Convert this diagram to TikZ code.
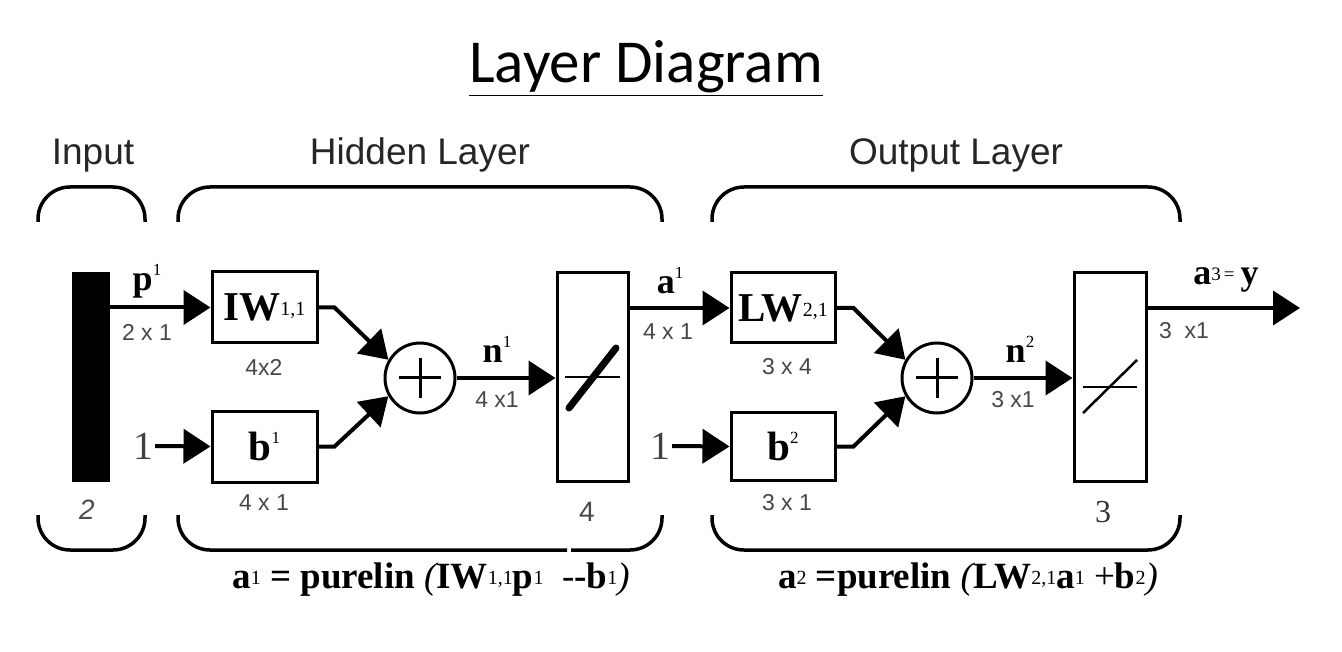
\documentclass[tikz,border=0pt]{standalone}
\usepackage{fontspec}
\setmainfont{Liberation Serif}
\newfontfamily\arialf{Liberation Sans}
\newfontfamily\calib{Carlito}
\usetikzlibrary{arrows.meta}
\newcommand\supn[1]{\raisebox{0.42em}{\fontsize{17}{17}\selectfont\mdseries #1}}
\newcommand\subn[1]{\raisebox{0.12em}{\fontsize{20}{20}\selectfont\mdseries #1}}
\begin{document}
\begin{tikzpicture}[x=1pt,y=-1pt,
 blk/.style={draw,line width=3pt,inner sep=0pt,minimum width=105pt,minimum height=71pt,font=\fontsize{41}{41}\selectfont\bfseries},
 tfbox/.style={draw,line width=3pt,inner sep=0pt,minimum width=71pt,minimum height=208pt},
 sumc/.style={draw,circle,line width=3pt,minimum size=70pt,inner sep=0pt},
 con/.style={line width=4pt,-{Triangle[length=27pt,width=34pt]}},
 brk/.style={line width=3.5pt,rounded corners=32pt},
 dim/.style={font=\arialf\fontsize{23}{23}\selectfont,text=black!72},
 lab/.style={font=\fontsize{36}{36}\selectfont\bfseries},
 hdr/.style={font=\arialf\fontsize{37}{37}\selectfont,text=black!85},
 onel/.style={font=\fontsize{40}{40}\selectfont,text=black!75,inner sep=2pt},
 frm/.style={font=\fontsize{37}{37}\selectfont\bfseries},
]
\useasboundingbox (0,0) rectangle (1342,652);

% title
\node[font=\calib\fontsize{61}{61}\selectfont,anchor=base] (title) at (646,83) {\underline{Layer Diagram}};

% headers
\node[hdr,anchor=base] (hin) at (93,165) {Input};
\node[hdr,anchor=base] (hhid) at (420,165) {Hidden Layer};
\node[hdr,anchor=base] (hout) at (956,165) {Output Layer};

% brackets top
\draw[brk] (38,222) -- (38,187) -- (145,187) -- (145,222);
\draw[brk] (178,222) -- (178,187) -- (662,187) -- (662,222);
\draw[brk] (712,222) -- (712,187) -- (1180,187) -- (1180,222);
% brackets bottom
\draw[brk] (38,515) -- (38,550) -- (145,550) -- (145,515);
\draw[brk] (178,515) -- (178,550) -- (567,550);
\draw[brk] (571,550) -- (662,550) -- (662,515);
\draw[brk] (712,515) -- (712,550) -- (1180,550) -- (1180,515);

% input bar
\node[fill=black,inner sep=0pt,minimum width=38pt,minimum height=210pt] (inbar) at (91,377) {};
\node[font=\arialf\itshape\fontsize{28}{28}\selectfont,text=black!70] (two) at (87,510) {2};

% hidden layer blocks
\node[blk] (IW) at (264.5,307.5) {IW\subn{1,1}};
\node[blk] (b1) at (264.5,446.5) {b\supn{1}};
\node[sumc] (s1) at (420,378) {};
\draw[line width=3pt] (s1.center) ++(-21,0) -- ++(42,0);
\draw[line width=3pt] (s1.center) ++(0,-20) -- ++(0,40);
\node[tfbox] (tf1) at (592.5,377) {};
\draw[line width=2pt] (565,377) -- (620,377);
\draw[line width=7pt,line cap=round] (569,408) -- (616,348);

% output layer blocks
\node[blk,minimum width=104pt,minimum height=70pt] (LW) at (783,308) {LW\subn{2,1}};
\node[blk,minimum width=104pt,minimum height=68pt] (b2) at (783,446.5) {b\supn{2}};
\node[sumc] (s2) at (937,378) {};
\draw[line width=3pt] (s2.center) ++(-21,0) -- ++(42,0);
\draw[line width=3pt] (s2.center) ++(0,-20) -- ++(0,40);
\node[tfbox,minimum width=72pt] (tf2) at (1110,377) {};
\draw[line width=2pt] (1083,387) -- (1137,387);
\draw[line width=2.5pt] (1083,413) -- (1137,360);

% "1" inputs
\node[onel] (one1) at (143,446) {1};
\node[onel] (one2) at (660,446) {1};

% connectors
\draw[con] (inbar.east |- IW.west) -- (IW.west);
\draw[con] (one1.east) -- (b1.west);
\draw[con] (IW.east) -- ++(16,0) -- (s1.150);
\draw[con] (b1.east) -- ++(16,0) -- (s1.210);
\draw[con] (s1.east) -- (tf1.west |- s1.east);
\draw[con] (tf1.east |- LW.west) -- (LW.west);
\draw[con] (one2.east) -- (b2.west);
\draw[con] (LW.east) -- ++(17,0) -- (s2.150);
\draw[con] (b2.east) -- ++(17,0) -- (s2.210);
\draw[con] (s2.east) -- (tf2.west |- s2.east);
\coordinate (outend) at (1300,308);
\draw[con] (tf2.east |- outend) -- (outend);

% signal labels
\node[lab] (lp) at (147,281) {p\supn{1}};
\node[lab] (la1) at (670,281) {a\supn{1}};
\node[lab] (ln1) at (497,349) {n\supn{1}};
\node[lab] (ln2) at (1020,349) {n\supn{2}};
\node[lab] (la3) at (1226,280) {a{\mdseries\raisebox{0.1em}{\fontsize{19}{19}\selectfont 3\,=}}\,y};

% dimension labels
\node[dim] (d1) at (147,332) {2 x 1};
\node[dim] (d2) at (264,367) {4x2};
\node[dim] (d3) at (264,503) {4 x 1};
\node[dim] (d4) at (497,400) {4 x1};
\node[dim] (d5) at (668,332) {4 x 1};
\node[dim] (d6) at (787,367) {3 x 4};
\node[dim] (d7) at (787,503) {3 x 1};
\node[dim] (d8) at (1013,400) {3 x1};
\node[dim] (d9) at (1184,331) {3\ \ x1};
\node[font=\arialf\fontsize{28}{28}\selectfont,text=black!72] (nn1) at (587,512) {4};
\node[font=\fontsize{32}{32}\selectfont,text=black!80] (nn2) at (1103,512) {3};

% formulas
\node[frm] (f1) at (431,580) {a\subn{1} = purelin {\mdseries\itshape (}IW\subn{1,1}p\subn{1} \ {\mdseries -}-b\subn{1}{\mdseries\itshape )}};
\node[frm] (f2) at (968,580) {a\subn{2} =purelin {\mdseries\itshape (}LW\subn{2,1}a\subn{1} {\mdseries +}b\subn{2}{\mdseries\itshape )}};
\end{tikzpicture}
\end{document}
